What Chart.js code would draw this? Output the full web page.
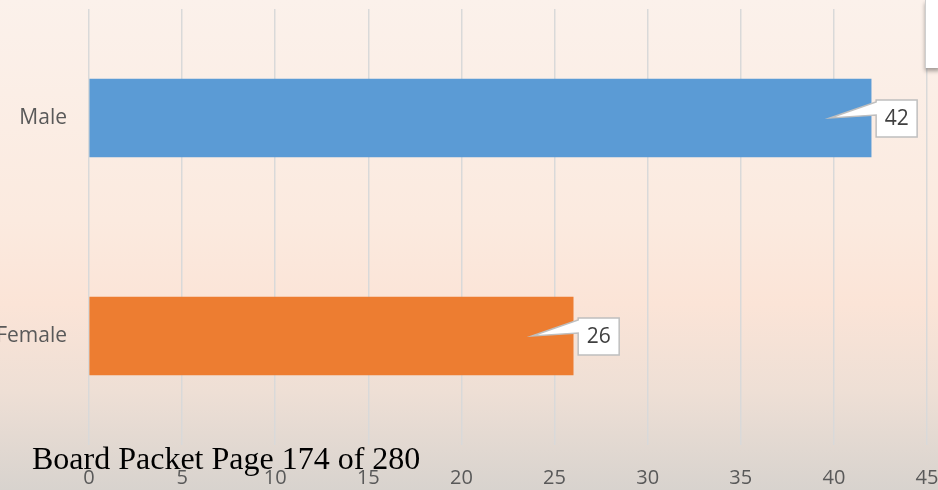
<!DOCTYPE html>
<html>
<head>
<meta charset="utf-8">
<script src="https://cdn.jsdelivr.net/npm/chart.js@4"></script>
<style>
  html, body { margin: 0; padding: 0; }
  body {
    width: 938px; height: 490px; overflow: hidden; position: relative;
    background: linear-gradient(to bottom, #fbf1eb 0%, #fbeadf 45%, #fbe4d7 62%, #eedfd5 80%, #d8d3ce 100%);
  }
  #wrap { position: absolute; left: 0; top: 0; width: 938px; height: 490px; }
  #legendStub {
    position: absolute; left: 925px; top: 0; width: 14px; height: 68px;
    background: #fff; border-left: 1px solid #cfcfcf;
    box-shadow: 0 3px 4px rgba(0,0,0,0.35);
  }
  #footer {
    position: absolute; left: 32px; top: 438px;
    font-family: "Liberation Serif", "Times New Roman", serif; font-size: 32px; color: #000;
    white-space: nowrap; line-height: 40px;
  }
</style>
</head>
<body>
<div id="wrap"><canvas id="myChart" width="938" height="490"></canvas></div>
<div id="legendStub"></div>
<div id="footer">Board Packet Page 174 of 280</div>
<script>
const categories = ['Male', 'Female'];
const values = [42, 26];
const barColors = ['#5b9bd5', '#ed7d31'];
const tickMax = 45;
const tickStep = 5;

// bulles blanches avec pointe vers la barre (style Excel)
const calloutPlugin = {
  id: 'callouts',
  afterDatasetsDraw(chart) {
    const ctx = chart.ctx;
    const meta = chart.getDatasetMeta(0);
    ctx.save();
    ctx.font = '21px "Open Sans", sans-serif';
    meta.data.forEach((bar, i) => {
      const txt = String(values[i]);
      const w = 41, h = 38;
      const x = bar.x + 5;
      const y = bar.y - h / 2;
      const tipX = bar.x - 41, tipY = bar.y;
      ctx.beginPath();
      ctx.moveTo(x, y + 1);
      ctx.lineTo(x + w, y + 1);
      ctx.lineTo(x + w, y + h);
      ctx.lineTo(x, y + h);
      ctx.lineTo(x, y + 16);
      ctx.lineTo(tipX, tipY);
      ctx.lineTo(x, y + 3);
      ctx.closePath();
      ctx.fillStyle = '#ffffff';
      ctx.fill();
      ctx.strokeStyle = '#bfbfbf';
      ctx.lineWidth = 1.5;
      ctx.stroke();
      ctx.fillStyle = '#404040';
      ctx.textAlign = 'center';
      ctx.textBaseline = 'middle';
      ctx.fillText(txt, x + w / 2, y + h / 2 + 1);
    });
    ctx.restore();
  }
};

function noPad(scale) {
  scale.paddingLeft = 0;
  scale.paddingRight = 0;
  scale.paddingTop = 0;
  scale.paddingBottom = 0;
}

const ctx = document.getElementById('myChart').getContext('2d');
new Chart(ctx, {
  type: 'bar',
  data: {
    labels: categories,
    datasets: [{
      data: values,
      backgroundColor: barColors,
      borderWidth: 0,
      barThickness: 78
    }]
  },
  options: {
    indexAxis: 'y',
    responsive: false,
    animation: false,
    layout: { padding: { top: 9, right: 11, left: 0, bottom: 0 } },
    plugins: { legend: { display: false }, tooltip: { enabled: false } },
    scales: {
      x: {
        min: 0,
        max: tickMax,
        ticks: {
          stepSize: tickStep,
          color: '#595959',
          font: { family: '"Open Sans", sans-serif', size: 20 },
          padding: 21
        },
        grid: { color: '#d9d9d9', lineWidth: 1.5, drawTicks: false },
        border: { display: false },
        afterFit(scale) { scale.height = 45; noPad(scale); }
      },
      y: {
        ticks: {
          color: '#595959',
          font: { family: '"Open Sans", sans-serif', size: 21 },
          padding: 22
        },
        grid: { display: false, drawTicks: false },
        border: { display: false },
        afterFit(scale) { scale.width = 89; noPad(scale); }
      }
    }
  },
  plugins: [calloutPlugin]
});
</script>
</body>
</html>
